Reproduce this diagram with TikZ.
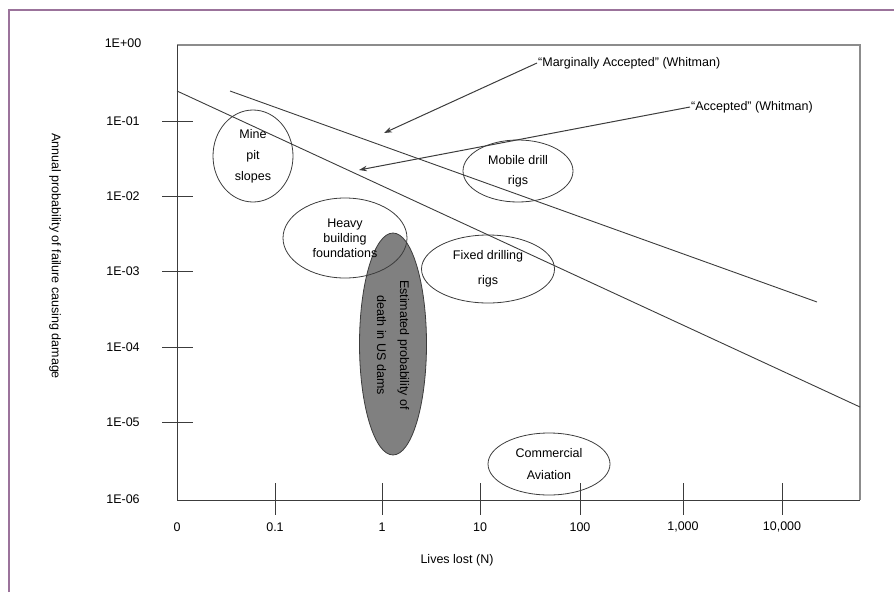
\documentclass[tikz,border=0pt]{standalone}
\usepackage{fontspec}
\setmainfont{Liberation Sans}
\usetikzlibrary{shapes.geometric,arrows.meta}
\definecolor{bordure}{RGB}{155,115,155}
\definecolor{trait}{RGB}{60,60,60}
\definecolor{cadre}{RGB}{140,140,140}
\definecolor{barrage}{RGB}{128,128,128}

\begin{document}
\begin{tikzpicture}[x=1pt, y=-1pt, >={Stealth[length=8pt,width=5.5pt]}, font=\fontsize{12.5}{15}\selectfont,
    zone/.style={ellipse, draw=trait, line width=0.8pt, inner sep=0pt, align=center},
    graduation/.style={trait, line width=0.8pt}]

    \useasboundingbox (0,0) rectangle (894,592);

    % cadre violet
    \draw[bordure, line width=2pt] (9,592) -- (9,10) -- (894,10);

    % axes
    \draw[cadre, line width=1.2pt] (177,45) -- (860,45) -- (860,500);
    \draw[trait, line width=1pt] (177,45) -- (177,500) -- (860,500);

    % graduations verticales
    \node (y0) at (123,43) {1E+00};
    \foreach \n/\yy in {1/121, 2/196, 3/271, 4/347, 5/422} {
        \draw[graduation] (162,\yy) -- (193,\yy);
        \node (y\n) at (123,\yy) {1E-0\n};
    }
    \node (y6) at (123,499) {1E-06};

    % graduations horizontales
    \node (x0) at (177,527) {0};
    \foreach \lab/\xx in {0.1/275, 1/382, 10/480, 100/580, {1,000}/683, {10,000}/782} {
        \draw[graduation] (\xx,483) -- (\xx,515);
        \node (x\xx) at (\xx,527) {\lab};
    }

    % titres des axes
    \node[rotate=-90] (titrey) at (55,256) {Annual probability of failure causing damage};
    \node (titrex) at (457,560) {Lives lost (N)};

    % droites d'acceptabilite
    \coordinate (a1) at (177,91);
    \coordinate (a2) at (860,407);
    \coordinate (m1) at (230,91);
    \coordinate (m2) at (817,302);
    \draw[trait, line width=0.9pt] (a1) -- (a2);
    \draw[trait, line width=0.9pt] (m1) -- (m2);

    % zone grisee (barrages)
    \node[zone, fill=barrage, minimum width=67pt, minimum height=222pt] (barrages) at (393,344) {};
    \node[rotate=-90, align=center, font=\fontsize{12.5}{23}\selectfont] (txtbarrages) at (393,345)
        {Estimated probability of\\death in US dams};

    % autres zones
    \node[zone, minimum width=80pt, minimum height=92pt, font=\fontsize{12.5}{21}\selectfont] (mine) at (253,156) {Mine\\pit\\slopes};
    \node[zone, minimum width=124pt, minimum height=80pt, font=\fontsize{12.5}{15}\selectfont] (fondations) at (345,238) {Heavy\\building\\foundations};
    \node[zone, minimum width=110pt, minimum height=62pt, font=\fontsize{12.5}{20}\selectfont] (mobile) at (518,171) {Mobile drill\\rigs};
    \node[zone, minimum width=133pt, minimum height=68pt, font=\fontsize{12.5}{25}\selectfont] (fixe) at (488,269) {Fixed drilling\\rigs};
    \node[zone, minimum width=122pt, minimum height=62pt, font=\fontsize{12.5}{22}\selectfont] (aviation) at (549,464) {Commercial\\Aviation};

    % annotations
    \node[anchor=west, inner sep=1pt] (marg) at (537,63) {``Marginally Accepted'' (Whitman)};
    \node[anchor=west, inner sep=1pt] (acc) at (690,107) {``Accepted'' (Whitman)};
    \coordinate (pm) at (384,133);
    \coordinate (pa) at (359,170);
    \draw[->, trait, line width=1pt] (marg.west) -- (pm);
    \draw[->, trait, line width=1pt] (acc.west) -- (pa);

\end{tikzpicture}
\end{document}
